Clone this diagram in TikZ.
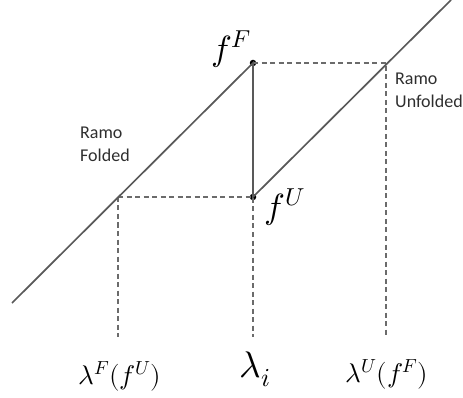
\documentclass[tikz,border=0pt]{standalone}
\usepackage{fontspec}
\setmainfont{Carlito}
\usepackage{unicode-math}
\setmathfont{Latin Modern Math}
\begin{document}
\begin{tikzpicture}[x=1pt,y=-1pt,
  branch/.style={draw=black!65,line width=1.7pt},
  guide/.style={draw=black!58,line width=1.1pt,dash pattern=on 5pt off 3.5pt},
  dot/.style={circle,fill=black,inner sep=0pt,minimum size=6.5pt},
  ramo/.style={align=left,anchor=north west,inner sep=0pt,font=\fontsize{18}{23}\selectfont,text=black!82},
  mlab/.style={inner sep=0pt,font=\fontsize{35}{38}\selectfont},
  blab/.style={inner sep=0pt,font=\fontsize{27}{30}\selectfont}]
\useasboundingbox (0,0) rectangle (463,398);
\coordinate (A) at (12,303);
\coordinate (B) at (451,0);
\coordinate (PF) at (118,197);
\coordinate (PU) at (386,63);
\coordinate (LF) at (118,337);
\coordinate (LI) at (253,337);
\coordinate (LU) at (386,335);
\node[dot] (FF) at (253,63) {};
\node[dot] (FU) at (253,197) {};
\draw[guide] (FF.center) -- (PU) -- (LU);
\draw[guide] (PF) -- (FU.center) -- (LI);
\draw[guide] (PF) -- (LF);
\draw[branch] (A) -- (FF.center) -- (FU.center) -- (B);
\node[mlab] (tF) at (231,49) {$f^F$};
\node[mlab] (tU) at (285,207) {$f^U$};
\node[ramo] (rf) at (80,127) {Ramo\\Folded};
\node[ramo] (ru) at (395,73) {Ramo\\Unfolded};
\node[blab] (bF) at (120,376) {$\lambda^F(f^U)$};
\node[blab,font=\fontsize{37}{40}\selectfont] (bI) at (255,369) {$\lambda_i$};
\node[blab] (bU) at (387,374) {$\lambda^U(f^F)$};
\end{tikzpicture}
\end{document}
